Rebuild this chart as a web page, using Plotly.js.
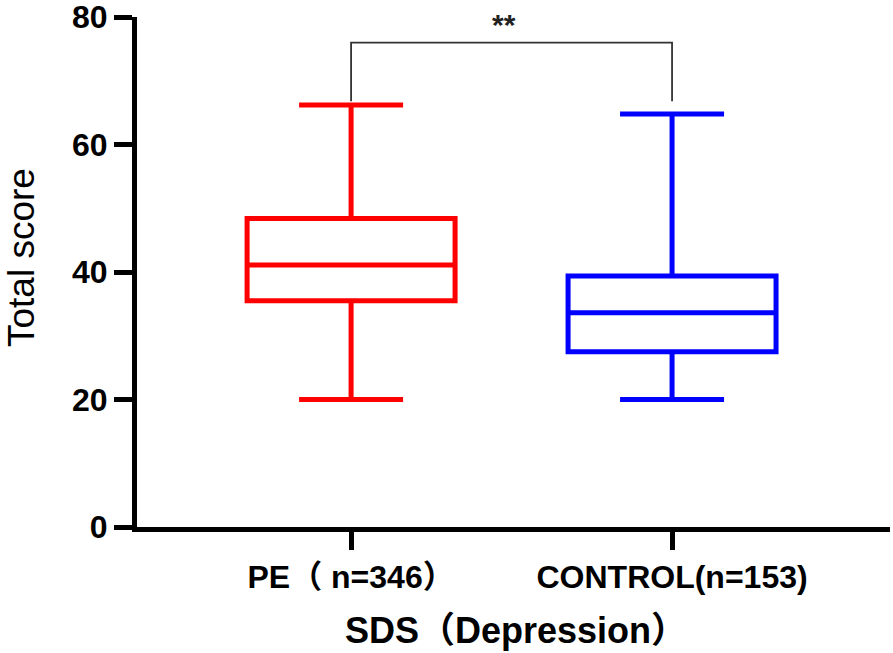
<!DOCTYPE html>
<html>
<head>
<meta charset="utf-8">
<script src="https://cdn.plot.ly/plotly-3.0.1.min.js"></script>
<style>html,body{margin:0;padding:0;background:#fff;}#chart{width:893px;height:653px;}</style>
</head>
<body>
<div id="chart"></div>
<script>
// ---- data ----
const categories = ["PE（ n=346）", "CONTROL(n=153)"];
const lowerWhisker = [20, 20];
const q1Values = [35.5, 27.5];
const medianValues = [41.1, 33.6];
const q3Values = [48.4, 39.4];
const upperWhisker = [66.2, 64.8];
const boxColors = ["#FF0000", "#0000FF"];
const bracketTop = 76;
const bracketEnd = 66.8;
const sigLabel = "**";
const yTicks = [0, 20, 40, 60, 80];
const xTitle = "SDS（Depression）";
const yTitle = "Total score";

const fontFam = '"Liberation Sans", Arial, "Noto Sans CJK SC", sans-serif';

const traces = categories.map((c, i) => ({
  type: "box",
  x: [c],
  q1: [q1Values[i]],
  median: [medianValues[i]],
  q3: [q3Values[i]],
  lowerfence: [lowerWhisker[i]],
  upperfence: [upperWhisker[i]],
  boxpoints: false,
  width: 0.648,
  whiskerwidth: 0.5,
  line: { color: boxColors[i], width: 5 },
  fillcolor: "rgba(0,0,0,0)",
  hoverinfo: "skip",
  showlegend: false
}));

traces.push({
  type: "scatter",
  mode: "lines",
  x: [categories[0], categories[0], categories[1], categories[1]],
  y: [bracketEnd, bracketTop, bracketTop, bracketEnd],
  line: { color: "#333333", width: 1.8 },
  hoverinfo: "skip",
  showlegend: false
});

const layout = {
  width: 893,
  height: 653,
  margin: { l: 137, r: 3, t: 17, b: 126 },
  paper_bgcolor: "#ffffff",
  plot_bgcolor: "#ffffff",
  font: { family: fontFam, color: "#000" },
  showlegend: false,
  xaxis: {
    type: "category",
    categoryarray: categories,
    range: [-0.667, 1.679],
    showline: true,
    linecolor: "#000",
    linewidth: 5,
    ticks: "outside",
    ticklen: 18,
    tickwidth: 5,
    tickcolor: "#000",
    showgrid: false,
    zeroline: false,
    tickfont: { family: fontFam, size: 32, color: "#000", weight: "bold" }
  },
  yaxis: {
    range: [0, 80.02],
    tickvals: yTicks,
    ticklabeloverflow: "allow",
    showline: true,
    linecolor: "#000",
    linewidth: 5,
    ticks: "outside",
    ticklen: 18,
    tickwidth: 5,
    tickcolor: "#000",
    showgrid: false,
    zeroline: false,
    tickfont: { family: fontFam, size: 32, color: "#000", weight: "bold" }
  },
  annotations: [{
    x: 0.5,
    xref: "x",
    y: bracketTop,
    yref: "y",
    text: "<b>" + sigLabel + "</b>",
    showarrow: false,
    yanchor: "bottom",
    xshift: -8,
    yshift: 0,
    font: { family: fontFam, size: 30, color: "#222" }
  }, {
    x: 0, xref: "paper", y: 0.5, yref: "paper",
    text: yTitle, textangle: -90, showarrow: false,
    xanchor: "center", yanchor: "middle",
    xshift: -116, yshift: 14,
    font: { family: fontFam, size: 37, color: "#000" }
  }, {
    x: 0.5, xref: "paper", y: 0, yref: "paper",
    text: "<b>" + xTitle + "</b>", showarrow: false,
    xanchor: "center", yanchor: "middle",
    xshift: 2, yshift: -103,
    font: { family: fontFam, size: 36, color: "#000" }
  }]
};

Plotly.newPlot("chart", traces, layout, { displayModeBar: false, staticPlot: true });
</script>
</body>
</html>
